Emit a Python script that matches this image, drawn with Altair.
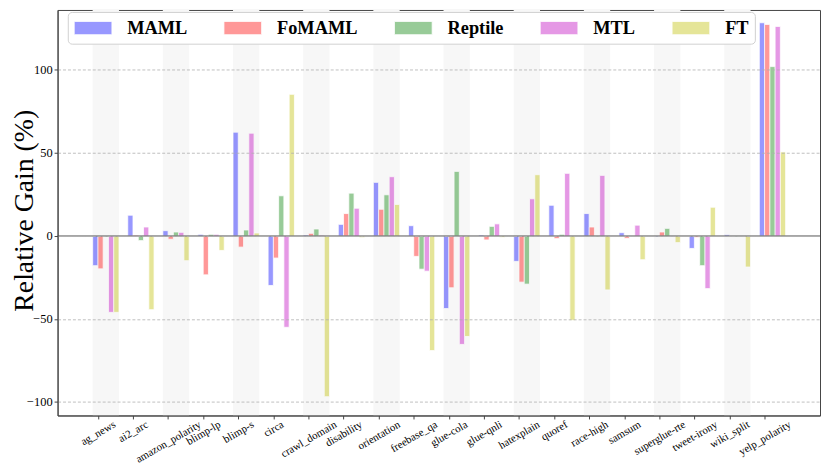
import json
import altair as alt
import pandas as pd

categories = ["ag_news", "ai2_arc", "amazon_polarity", "blimp-lp", "blimp-s", "circa",
              "crawl_domain", "disability", "orientation", "freebase_qa", "glue-cola",
              "glue-qnli", "hatexplain", "quoref", "race-high", "samsum", "superglue-rte",
              "tweet-irony", "wiki_split", "yelp_polarity"]
methods = ["MAML", "FoMAML", "Reptile", "MTL", "FT"]
maml = [-17.9, 12.5, 3.2, 1.0, 62.5, -29.8, 0.6, 7.0, 32.3, 6.2, -43.7, 0.6, -15.3, 18.5,
        13.5, 2.0, -0.5, -7.5, 0.8, 128.4]
fomaml = [-19.8, 0.5, -2.0, -23.4, -6.7, -13.3, 1.6, 13.5, 16.1, -12.3, -31.2, -2.4, -27.8,
          -1.6, 5.4, -1.4, 2.4, -0.8, 0.0, 127.4]
reptile = [-0.5, -2.8, 2.4, 1.0, 3.6, 24.2, 4.2, 25.8, 24.8, -20.0, 38.9, 5.8, -29.0, 1.0,
           -0.4, 0.0, 4.6, -17.9, -0.4, 102.0]
mtl = [-46.0, 5.4, 2.2, 1.0, 61.9, -55.0, 0.5, 16.7, 35.7, -21.2, -65.3, 7.3, 22.4, 37.7,
       36.5, 6.5, 0.0, -31.7, 0.0, 126.2]
ft = [-46.0, -44.4, -14.9, -8.7, 1.8, 85.3, -96.8, -1.0, 19.0, -69.0, -60.5, -0.8, 36.9,
      -50.8, -32.5, -14.3, -4.0, 17.3, -18.7, 50.6]
y_ticks = [-100, -50, 0, 50, 100]

colors = ["#0000ff", "#ff0000", "#008000", "#bf00bf", "#bfbf00"]
BW = 0.15
W, H = 769, 409
SERIF = "Liberation Serif"
XFS = 11

series = [maml, fomaml, reptile, mtl, ft]
rows = []
for k, (m, vals) in enumerate(zip(methods, series)):
    for i, (c, v) in enumerate(zip(categories, vals)):
        x0 = i + (k - 1) * BW
        rows.append(dict(category=c, method=m, value=v, base=0.0, x0=x0, x1=x0 + BW))
df = pd.DataFrame(rows)

band_df = pd.DataFrame([dict(x0=i - BW, x1=i + 4 * BW) for i in range(0, len(categories), 2)])
zero_df = pd.DataFrame({"y": [0]})

# approximate Times glyph widths (em) to mimic bbox-centred rotated tick labels
GW = {"a": .444, "b": .5, "c": .444, "d": .5, "e": .444, "f": .333, "g": .5, "h": .5,
      "i": .278, "j": .278, "k": .5, "l": .278, "m": .778, "n": .5, "o": .5, "p": .5,
      "q": .5, "r": .333, "s": .389, "t": .278, "u": .5, "v": .5, "w": .722, "x": .5,
      "y": .5, "z": .444, "_": .5, "-": .333, "2": .5}


def text_w(s):
    return sum(GW.get(ch, 0.5) for ch in s) * XFS


pad_cond = [{"test": f"datum.value === {i}", "value": round(4.5 + text_w(c) / 4, 2)}
            for i, c in enumerate(categories)]

xscale = alt.Scale(domain=[-1.15, 20.58], nice=False, zero=False)
yscale = alt.Scale(domain=[-108.1, 136.1], nice=False, zero=False)

xaxis = alt.Axis(values=list(range(len(categories))),
                 labelExpr=json.dumps(categories) + "[datum.value]",
                 labelAngle=330, labelAlign="center", labelBaseline="middle",
                 labelPadding={"condition": pad_cond, "value": 10},
                 labelFont=SERIF, labelFontSize=XFS, labelColor="black",
                 labelOverlap=False, labelFlush=False,
                 tickSize=3.5, tickColor="#444444", domainColor="#444444",
                 grid=False, title=None, zindex=1)
yaxis = alt.Axis(values=y_ticks, title="Relative Gain (%)", titleFont=SERIF,
                 titleFontSize=28, titleFontWeight="normal", titleColor="black",
                 titleX=-25, titleY=202, titleAngle=270, titleBaseline="alphabetic",
                 titleAlign="center",
                 labelFont=SERIF, labelFontSize=12.5, labelColor="black", labelPadding=2,
                 tickSize=3.5, tickColor="#444444", domainColor="#444444",
                 grid=True, gridColor="#b0b0b0", gridDash=[3, 2], gridWidth=0.8,
                 zindex=1)

# legend swatch: 38 x 13.3 px rectangle drawn from the entry's left edge
legend = alt.Legend(orient="none", legendX=10.3, legendY=2, direction="horizontal",
                    title=None, symbolType="M-1,-0.7H3V0.7H-1Z", symbolSize=361,
                    symbolOpacity=0.4, symbolStrokeColor="white", symbolStrokeWidth=0.8,
                    labelFont=SERIF, labelFontSize=18.5, labelFontWeight="bold",
                    labelColor="black", labelOffset=34, columnPadding=34, padding=6,
                    fillColor="white", strokeColor="#d0d0d0", cornerRadius=4)

bands = alt.Chart(band_df).mark_rect(color="#f7f7f7").encode(
    x=alt.X("x0:Q", scale=xscale, axis=xaxis),
    x2="x1:Q",
    y=alt.value(0),
    y2=alt.value(H),
)

bars = alt.Chart(df).mark_bar(opacity=0.4, stroke="white", strokeWidth=0.8).encode(
    x=alt.X("x0:Q", scale=xscale, axis=xaxis),
    x2="x1:Q",
    y=alt.Y("value:Q", scale=yscale, axis=yaxis),
    y2="base:Q",
    color=alt.Color("method:N", scale=alt.Scale(domain=methods, range=colors),
                    legend=legend),
)

zero = alt.Chart(zero_df).mark_rule(color="#555555", strokeWidth=1).encode(
    y=alt.Y("y:Q", scale=yscale, axis=yaxis)
)

chart = alt.layer(bands, bars, zero).properties(
    width=W, height=H, autosize="none",
    padding={"left": 50, "top": 0, "right": 2, "bottom": 53},
).configure_view(stroke="#444444", strokeWidth=1)

chart.save("out.html", embed_options={"renderer": "svg", "actions": False})
